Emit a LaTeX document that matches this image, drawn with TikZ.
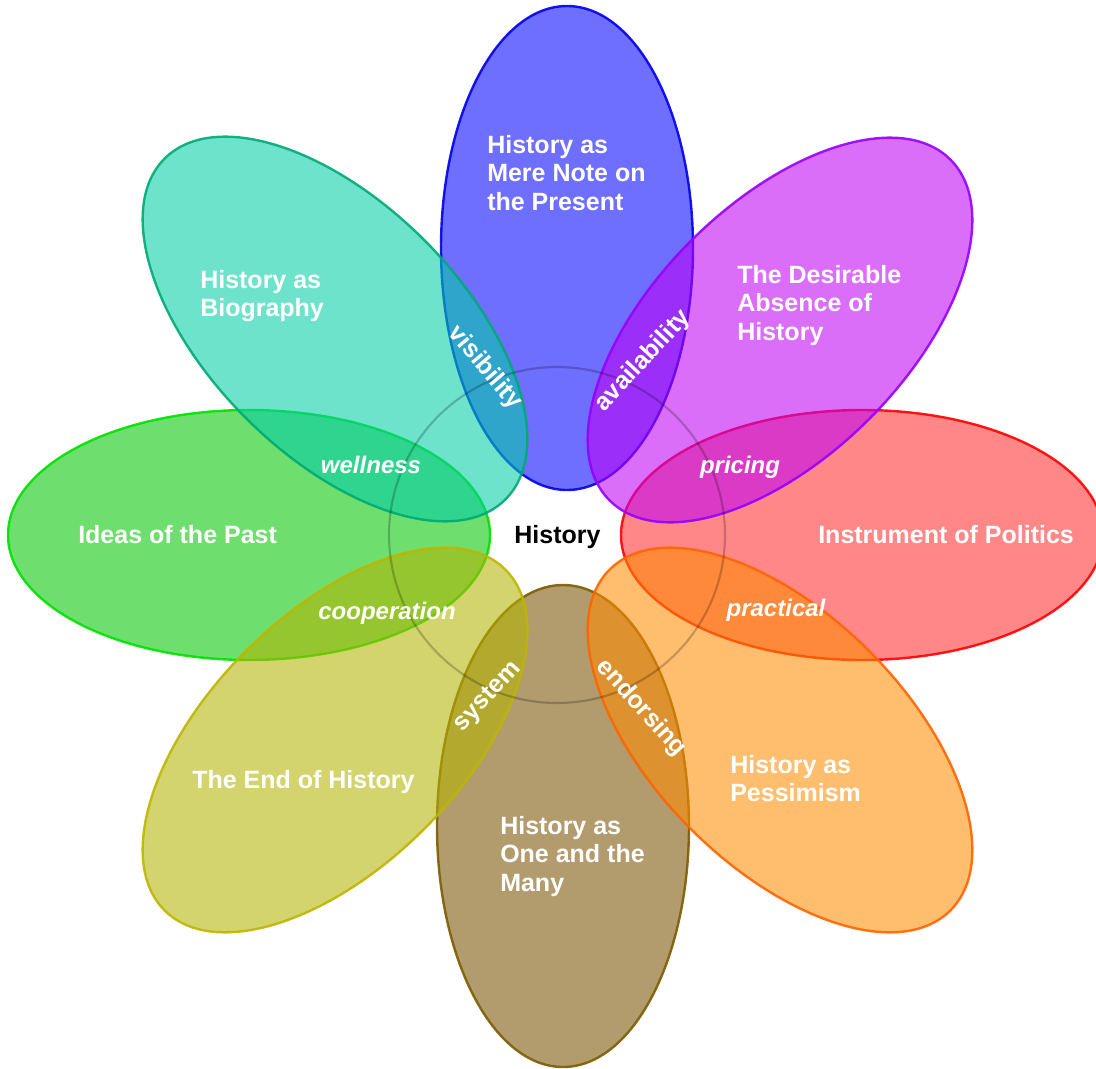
\documentclass[tikz,border=0pt]{standalone}
\usepackage{fontspec}
\setmainfont{Liberation Sans}
% petal fills (drawn translucent) and outlines
\definecolor{blueF}{RGB}{0,0,255}     \definecolor{blueS}{RGB}{0,0,235}
\definecolor{brownF}{RGB}{120,82,0}   \definecolor{brownS}{RGB}{125,92,0}
\definecolor{greenF}{RGB}{0,200,0}    \definecolor{greenS}{RGB}{0,225,0}
\definecolor{redF}{RGB}{255,45,45}    \definecolor{redS}{RGB}{255,0,0}
\definecolor{tealF}{RGB}{0,207,167}   \definecolor{tealS}{RGB}{0,170,115}
\definecolor{purpF}{RGB}{190,0,245}   \definecolor{purpS}{RGB}{150,0,255}
\definecolor{yellF}{RGB}{180,180,0}   \definecolor{yellS}{RGB}{190,182,0}
\definecolor{orngF}{RGB}{255,140,0}   \definecolor{orngS}{RGB}{255,100,0}
\begin{document}
\begin{tikzpicture}[x=0.75pt,y=-0.75pt,
  petal/.style={line width=1.8pt, fill opacity=0.57, draw opacity=0.9},
  title/.style={text=white, font=\fontsize{18.75}{21.3}\selectfont\bfseries,
                align=left, anchor=north west, inner sep=0pt},
  link/.style={text=white, font=\fontsize{18}{21}\selectfont\bfseries\itshape,
               inner sep=0pt, anchor=base},
  tilted/.style={text=white, font=\fontsize{18.75}{21}\selectfont\bfseries,
                 inner sep=0pt}]
\clip (0,0) rectangle (1096,1068);
\fill[white] (0,0) rectangle (1096,1068);

% cardinal petals
\path[petal, draw=blueS,  fill=blueF]  (567,248) ellipse [x radius=126, y radius=242];
\path[petal, draw=brownS, fill=brownF] (563,826) ellipse [x radius=126, y radius=241];
\path[petal, draw=greenS, fill=greenF] (249,535) ellipse [x radius=241, y radius=125];
\path[petal, draw=redS,   fill=redF]   (862,535) ellipse [x radius=241, y radius=125];

% diagonal petals
\path[petal, draw=tealS, fill=tealF, rotate around={-45:(335,329)}]
  (335,329) ellipse [x radius=241, y radius=126];
\path[petal, draw=purpS, fill=purpF, rotate around={45:(780,330)}]
  (780,330) ellipse [x radius=241, y radius=126];
\path[petal, draw=yellS, fill=yellF, rotate around={45:(335,740)}]
  (335,740) ellipse [x radius=241, y radius=126];
\path[petal, draw=orngS, fill=orngF, rotate around={-45:(780,740)}]
  (780,740) ellipse [x radius=241, y radius=126];

% faint hub ring
\draw[black, opacity=0.22, line width=1.6pt] (557,535) circle [radius=168];

% hub label
\node[font=\fontsize{18.75}{21}\selectfont\bfseries, inner sep=0pt, anchor=base]
  (hub) at (557.5,543) {History};

% petal titles
\node[title] (tBlue)  at (487,135) {History as\\Mere Note on\\the Present};
\node[title] (tTeal)  at (200,270) {History as\\Biography};
\node[title] (tPurp)  at (737,265) {The Desirable\\Absence of\\History};
\node[title] (tGreen) at (78,525)  {Ideas of the Past};
\node[title] (tRed)   at (818,525) {Instrument of Politics};
\node[title] (tYell)  at (192,770) {The End of History};
\node[title] (tOrng)  at (730,755) {History as\\Pessimism};
\node[title] (tBrown) at (500,816) {History as\\One and the\\Many};

% overlap words
\node[link] (wWell)  at (371,473) {wellness};
\node[link] (wPric)  at (740,473) {pricing};
\node[link] (wCoop)  at (387,619) {cooperation};
\node[link] (wPrac)  at (776,616) {practical};
\node[tilted, rotate=-50] (wVis)  at (485,368) {visibility};
\node[tilted, rotate=47]  (wAvail) at (643,361) {availability};
\node[tilted, rotate=47]  (wSys)  at (488,697) {system};
\node[tilted, rotate=-48] (wEnd)  at (641,708) {endorsing};
\end{tikzpicture}
\end{document}
